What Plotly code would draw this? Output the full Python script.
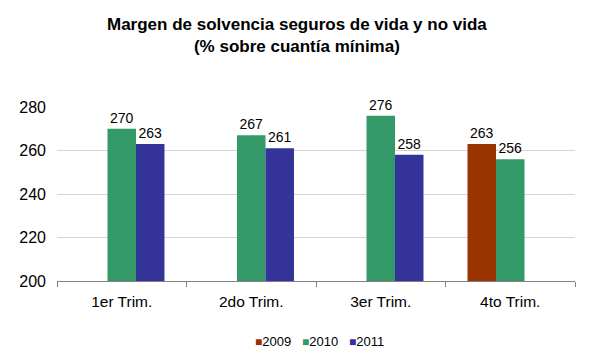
import plotly.graph_objects as go

categories = ["1er Trim.", "2do Trim.", "3er Trim.", "4to Trim."]
years = ["2009", "2010", "2011"]
values_2009 = [None, None, None, 263]
values_2010 = [270, 267, 276, 256]
values_2011 = [263, 261, 258, None]
colors = {"2009": "#993300", "2010": "#339966", "2011": "#333399"}

FONT = "Arial, Liberation Sans, sans-serif"
series = {"2009": values_2009, "2010": values_2010, "2011": values_2011}

fig = go.Figure()
for y in years:
    vals = series[y]
    fig.add_trace(go.Bar(
        x=categories, y=vals, name=y,
        marker=dict(color=colors[y], line=dict(width=0)),
        text=[("" if v is None else str(v)) for v in vals],
        textposition="outside", cliponaxis=False,
        textfont=dict(family=FONT, size=14, color="#000000"),
    ))

fig.update_layout(
    width=590, height=360,
    margin=dict(l=57, r=15, t=107, b=79, autoexpand=False),
    paper_bgcolor="white", plot_bgcolor="white",
    barmode="group", bargap=0.34, bargroupgap=0,
    showlegend=False,
    font=dict(family=FONT, color="#000000"),
)
fig.update_yaxes(range=[200, 280], dtick=20, showgrid=True, gridcolor="#d4d4d4", gridwidth=1,
                 zeroline=False, showline=False, ticks="", ticklabelstandoff=10,
                 tickfont=dict(family=FONT, size=16, color="#000000"))
fig.update_xaxes(showline=True, linecolor="#808080", linewidth=1, ticks="outside",
                 tickson="boundaries", ticklen=5, tickcolor="#808080", ticklabelstandoff=6,
                 tickfont=dict(family=FONT, size=15.5, color="#000000"))

# Title
fig.add_annotation(text="<b>Margen de solvencia seguros de vida y no vida<br>(% sobre cuantía mínima)</b>",
                   xref="paper", yref="paper", x=(297 - 57) / 518, y=1 + (107 - 35) / 174,
                   xanchor="center", yanchor="middle", showarrow=False,
                   font=dict(family=FONT, size=17, color="#000000"), align="center")

# Legend (compact, Excel-like)
legend_text = "&nbsp;&nbsp;&nbsp;".join(
    f"<span style='color:{colors[y]};font-size:12px'>■</span>{y}" for y in years
)
fig.add_annotation(text=legend_text, xref="paper", yref="paper",
                   x=(319 - 57) / 518, y=-(341 - 281) / 174,
                   xanchor="center", yanchor="middle", showarrow=False,
                   font=dict(family=FONT, size=13, color="#000000"))

fig.write_html("out.html", config={"displayModeBar": False},
               post_script="document.body.style.margin='0';")
